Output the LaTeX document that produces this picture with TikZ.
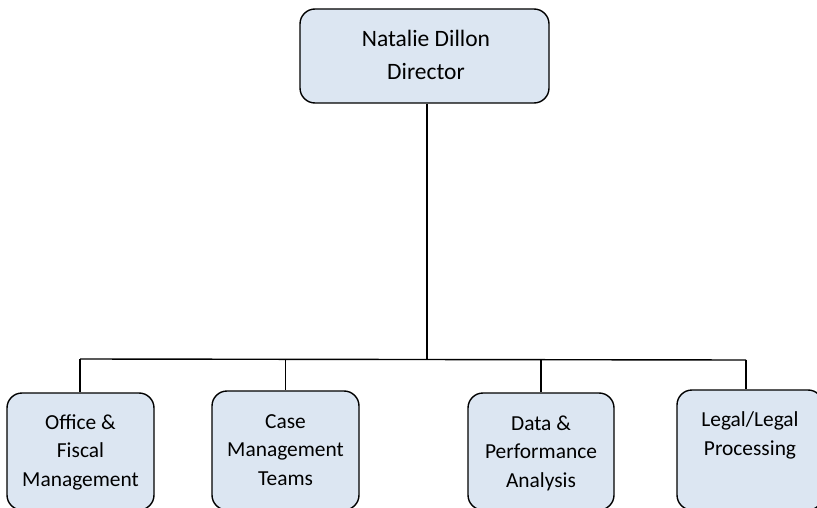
\documentclass[tikz,border=0pt]{standalone}
\usepackage{fontspec}
\setmainfont{Carlito}
\definecolor{boxfill}{RGB}{220,230,242}
\begin{document}
\begin{tikzpicture}[x=1pt,y=-1pt,
  box/.style={draw=black, line width=1.4pt, fill=boxfill, rounded corners=15pt, inner sep=0pt},
  conn/.style={draw=black, line width=1.4pt},
  lbl/.style={align=center, inner sep=0pt, font=\fontsize{21.4}{28.5}\selectfont},
  toplbl/.style={align=center, inner sep=0pt, font=\fontsize{23.5}{33}\selectfont}]
\useasboundingbox (0,0) rectangle (817,508);
\clip (0,0) rectangle (817,508);
\fill[white] (0,0) rectangle (817,508);
% top box
\node[box, minimum width=249pt, minimum height=94pt] (dir) at (424.5,56) {};
\node[toplbl] (dirt) at (426,55) {Natalie Dillon\\Director};
% bottom boxes
\node[box, minimum width=147pt, minimum height=117pt] (b1) at (80.5,451.5) {};
\node[box, minimum width=147pt, minimum height=119pt] (b2) at (285.5,450.5) {};
\node[box, minimum width=146pt, minimum height=117pt] (b3) at (541,451.5) {};
\node[box, minimum width=146pt, minimum height=120pt] (b4) at (750,450) {};
\node[lbl] (b1t) at (80.5,452) {Office \&\\Fiscal\\Management};
\node[lbl] (b2t) at (285.5,450) {Case\\Management\\Teams};
\node[lbl] (b3t) at (541,453) {Data \&\\Performance\\Analysis};
\node[lbl] (b4t) at (750,435.5) {Legal/Legal\\Processing};
% connectors
\coordinate (busL) at (80,359);
\coordinate (busR) at (746,360);
\coordinate (busM) at (427,359.5);
\coordinate (d4) at (746,360);
\draw[conn] (dir.south -| busM) -- (busM);
\draw[conn] (busL) -- (busR);
\draw[conn] (busL) -- (busL |- b1.north);
\draw[conn] (b2.north |- busL) -- (b2.north);
\draw[conn] (b3.north |- busL) -- (b3.north);
\draw[conn] (d4) -- (d4 |- b4.north);
\end{tikzpicture}
\end{document}
